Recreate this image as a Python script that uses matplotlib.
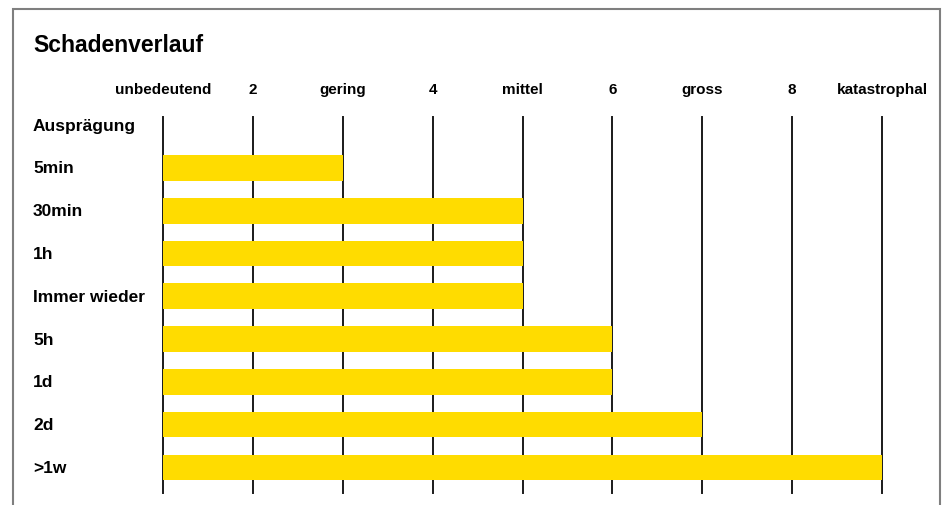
import matplotlib.pyplot as plt
from matplotlib.patches import Rectangle
from matplotlib.transforms import blended_transform_factory

plt.rcParams['font.family'] = ['Liberation Sans', 'DejaVu Sans']

# Daten
zeilen = ['Ausprägung', '5min', '30min', '1h', 'Immer wieder', '5h', '1d', '2d', '>1w']
werte = [None, 3, 5, 5, 5, 6, 6, 7, 9]
stufen = [1, 2, 3, 4, 5, 6, 7, 8, 9]
stufen_labels = ['unbedeutend', '2', 'gering', '4', 'mittel', '6', 'gross', '8', 'katastrophal']

gelb = '#FFDC00'

fig = plt.figure(figsize=(9.46, 5.06), dpi=100)
W, H = 946, 506
ax = fig.add_axes([163 / W, 1 - 494 / H, (882 - 163) / W, (494 - 118) / H])

for s in stufen:
    ax.axvline(s, color='#1a1a1a', lw=1.4, zorder=1, clip_on=False)

for i, v in enumerate(werte):
    if v is None:
        continue
    ax.barh(i, v - 1, left=1, height=0.6, color=gelb, zorder=2)

ax.set_xlim(1, 9)
ax.set_ylim(8.6, -0.19)
for sp in ax.spines.values():
    sp.set_visible(False)
ax.set_yticks([])
ax.xaxis.tick_top()
ax.set_xticks(stufen)
ax.set_xticklabels(stufen_labels, fontsize=11, fontweight='bold')
ax.tick_params(axis='x', length=0, pad=15)

trans = blended_transform_factory(fig.transFigure, ax.transData)
for i, z in enumerate(zeilen):
    ax.text(33 / W, i, z, transform=trans, ha='left', va='center',
            fontsize=12.5, fontweight='bold')

fig.text(33 / W, 1 - 45 / H, 'Schadenverlauf', ha='left', va='center',
         fontsize=16.5, fontweight='bold')

# Rahmen
fig.patches.append(Rectangle((13 / W, -0.05), (940 - 13) / W, 1.05 - 10 / H,
                             transform=fig.transFigure, fill=False,
                             edgecolor='#7f7f7f', lw=1.5))

fig.savefig('out.png', dpi=100)
